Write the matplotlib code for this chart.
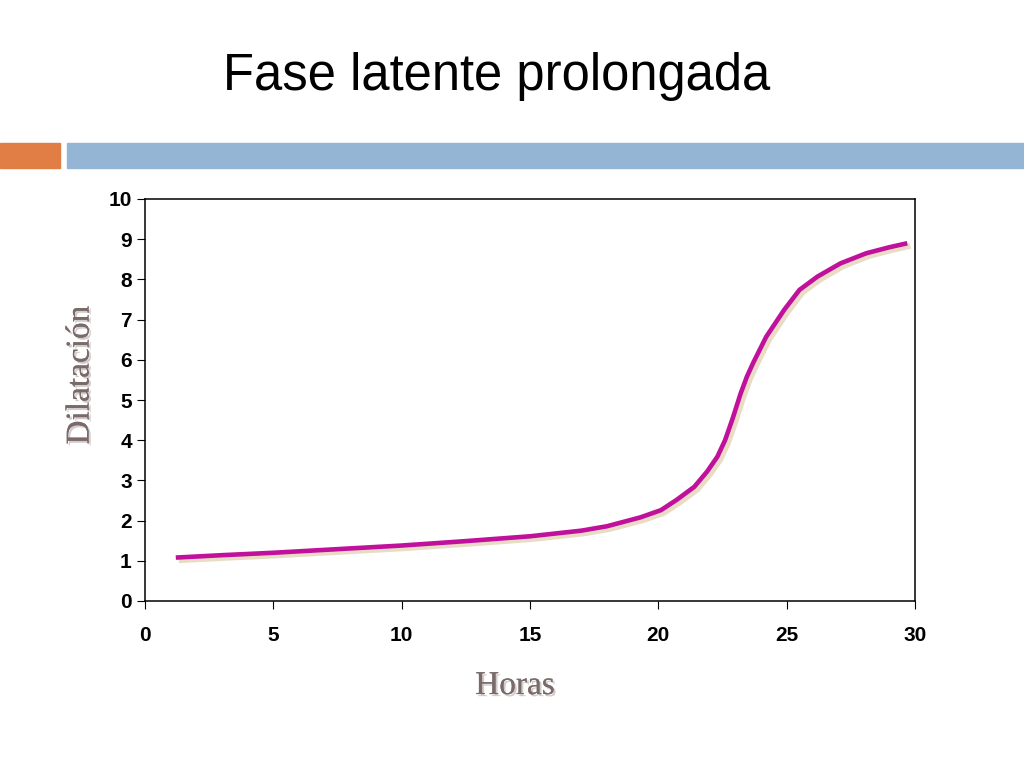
import numpy as np
from matplotlib import pyplot as plt
import matplotlib.patheffects as pe

horas = [1.2, 3, 5, 7.5, 10, 12.5, 15, 17, 18, 19.3, 20.1, 20.7, 21.4, 21.9, 22.3, 22.6, 22.9, 23.2, 23.45, 23.7, 24.2, 24.9, 25.5, 26.2, 27.1, 28.1, 29, 29.7]
dilatacion = [1.08, 1.14, 1.2, 1.29, 1.38, 1.49, 1.61, 1.75, 1.86, 2.08, 2.26, 2.51, 2.84, 3.22, 3.59, 4.0, 4.55, 5.15, 5.58, 5.93, 6.57, 7.24, 7.74, 8.07, 8.4, 8.65, 8.8, 8.9]

fig = plt.figure(figsize=(10.24, 7.68), dpi=100)

# cabecera
fig.patches.append(plt.Rectangle((0, 1 - 168/768), 60/1024, 25/768, transform=fig.transFigure, color='#E07E45', zorder=0))
fig.patches.append(plt.Rectangle((67/1024, 1 - 168/768), 1 - 67/1024, 25/768, transform=fig.transFigure, color='#94B5D4', zorder=0))
fig.text(0.485, 0.901, "Fase latente prolongada", ha='center', va='center', fontsize=36.5, family='Liberation Sans')

ax = fig.add_axes([145/1024, 1 - 601/768, 770/1024, 402/768])
# sombra
ax.plot(np.array(horas) + 0.12, np.array(dilatacion) - 0.07, color='#E8DCC4', linewidth=4, solid_capstyle='butt', solid_joinstyle='round')
ax.plot(horas, dilatacion, color='#C0109C', linewidth=3.3, solid_capstyle='butt', solid_joinstyle='round')

ax.set_xlim(0, 30)
ax.set_ylim(0, 10)
ax.set_xticks(range(0, 31, 5))
ax.set_yticks(range(0, 11))
for lbl in ax.get_xticklabels() + ax.get_yticklabels():
    lbl.set_fontweight('bold')
    lbl.set_family('Liberation Sans')
ax.tick_params(labelsize=15, length=6, direction='out')
ax.tick_params(axis='x', pad=12)
for s in ax.spines.values():
    s.set_linewidth(1.1)

shadow = [pe.withSimplePatchShadow(offset=(1.5, -1.5), shadow_rgbFace='#C8C0C0', alpha=0.8), pe.Normal()]
ax.set_xlabel("Horas", fontsize=24, family='Liberation Serif', color='#7A6A6A', va='center', ha='center', path_effects=shadow)
ax.set_ylabel("Dilatación", fontsize=24, family='Liberation Serif', color='#7A6A6A', va='center', ha='center', path_effects=shadow)
ax.xaxis.set_label_coords(0.4805, -0.211)
ax.yaxis.set_label_coords(-0.084, 0.562)

plt.savefig("out.png", dpi=100)
